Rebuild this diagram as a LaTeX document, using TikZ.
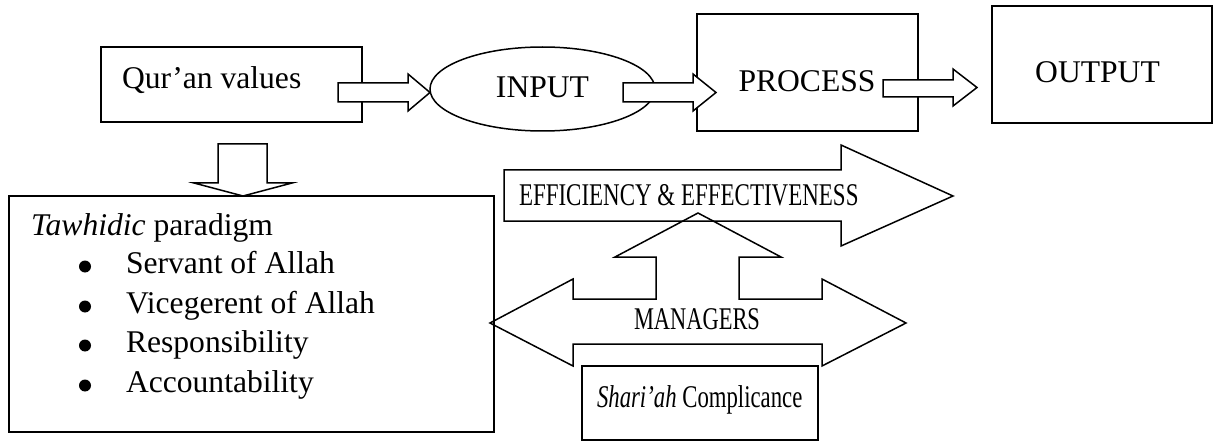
\documentclass[tikz,border=0pt]{standalone}
\usepackage{fontspec}
\setmainfont{Liberation Serif}
\usepackage{graphicx}
\usetikzlibrary{shapes.geometric}
\begin{document}
\begin{tikzpicture}[x=1pt,y=-1pt,
  line width=1.5pt, line join=miter,
  box/.style={draw=black, rectangle, inner sep=0pt, outer sep=0pt, fill=white},
  oval/.style={draw=black, ellipse, inner sep=0pt, outer sep=0pt, fill=white},
  blockarrow/.style={draw=black, fill=white},
  lbl/.style={inner sep=0pt, outer sep=0pt, font=\fontsize{31.6}{38}\selectfont},
  dot/.style={fill=black, draw=none}]
\useasboundingbox (0,0) rectangle (1216,441);
% boxes
\node[box, minimum width=261pt, minimum height=75pt] (quran) at (231.5,84.5) {};
\node[oval, minimum width=225pt, minimum height=84pt] (input) at (542.5,89) {};
\node[box, minimum width=221pt, minimum height=117pt] (process) at (807.5,72.5) {};
\node[box, minimum width=220pt, minimum height=117pt] (output) at (1102,64.5) {};
\node[box, minimum width=485pt, minimum height=236pt] (tawhid) at (251.5,314) {};
\node[box, minimum width=236pt, minimum height=74pt] (shariah) at (700,403) {};
% block arrows along the top row
\draw[blockarrow] (338,83) -- (408,83) -- (408,74) -- (430,92.5) -- (408,111) -- (408,102) -- (338,102) -- cycle;
\draw[blockarrow] (623,83) -- (693,83) -- (693,74) -- (716,92.5) -- (693,111) -- (693,102) -- (623,102) -- cycle;
\draw[blockarrow] (883,80) -- (953,80) -- (953,69) -- (977,87.5) -- (953,106) -- (953,97) -- (883,97) -- cycle;
% down arrow
\draw[blockarrow] (218,144) -- (267,144) -- (267,183) -- (292,183) -- (243,196) -- (194,183) -- (218,183) -- cycle;
% efficiency arrow
\draw[blockarrow] (504,170) -- (841,170) -- (841,145) -- (953,196) -- (841,246) -- (841,221) -- (504,221) -- cycle;
% managers arrow
\draw (490,323) -- (573,279) -- (573,299) -- (656,299) -- (656,257) -- (615,257) -- (698,213)
  -- (781,257) -- (739,257) -- (739,299) -- (822,299) -- (822,279) -- (906,323)
  -- (822,366) -- (822,344) -- (573,344) -- (573,366) -- cycle;
% labels
\node[lbl, anchor=base west] (qlbl) at (122,89) {Qur’an values};
\node[lbl, anchor=base] (ilbl) at (542.5,98) {INPUT};
\node[lbl, anchor=base] (plbl) at (807,91.5) {PROCESS};
\node[lbl, anchor=base] (olbl) at (1097.5,83) {OUTPUT};
\node[lbl, anchor=base west] (elbl) at (519,205) {\scalebox{0.727}[1]{EFFICIENCY \& EFFECTIVENESS}};
\node[lbl, anchor=base] (mlbl) at (697,329) {\scalebox{0.71}[1]{MANAGERS}};
\node[lbl, anchor=base west] (slbl) at (597,407) {\scalebox{0.72}[1]{\textit{Shari’ah} Complicance}};
\node[lbl, anchor=base west] (tlbl) at (31,235) {\textit{Tawhidic} paradigm};
\node[lbl, anchor=base west] (t1) at (126,273) {Servant of Allah};
\node[lbl, anchor=base west] (t2) at (126,313) {Vicegerent of Allah};
\node[lbl, anchor=base west] (t3) at (126,352) {Responsibility};
\node[lbl, anchor=base west] (t4) at (126,392) {Accountability};
\fill[dot] (85,266.5) circle (6);
\fill[dot] (85,306.5) circle (6);
\fill[dot] (85,345.5) circle (6);
\fill[dot] (85,385.5) circle (6);
\end{tikzpicture}
\end{document}
